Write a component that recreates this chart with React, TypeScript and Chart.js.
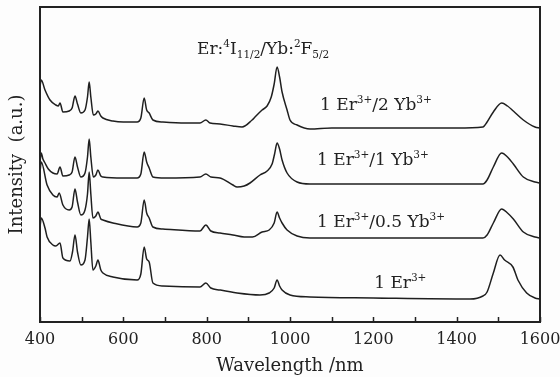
import React, { useEffect, useRef } from "react";
import { Chart, registerables } from "chart.js";

Chart.register(...registerables);

// Wavelength (nm) / intensity (a.u., offset traces)
const wl2Yb = [400,403,412,424,438,444,448,455,470,477,484,490,498,508,514,518,522,528,534,539,546,551,575,600,633,642,650,656,662,671,695,750,784,798,808,832,863,885,909,916,933,945,955,962,969,975,981,993,1000,1017,1048,1100,1200,1300,1400,1463,1473,1488,1508,1522,1536,1560,1588,1600];
const int2Yb = [236,242,232,222,217,216,219,210,211,214,226,218,209,212,225,240,225,207,208,211,206,204,201,200,200,204,224,212,209,202,200,199,199,202,199,198,196,195,202,205,212,216,225,238,255,245,230,212,202,197,193,194,194,194,194,195,200,210,219,216,211,202,195,194];

const wl1Yb = [400,403,407,412,420,431,441,448,455,470,477,484,490,498,508,514,518,522,528,534,539,546,551,600,633,642,650,656,662,671,700,784,798,810,832,863,873,890,904,928,945,957,963,969,975,981,993,1017,1048,1100,1200,1300,1400,1463,1473,1488,1508,1522,1536,1560,1588,1600];
const int1Yb = [160,169,163,159,153,149,148,155,146,147,150,165,155,145,149,165,183,165,145,147,152,146,145,144,144,148,170,160,154,145,144,145,148,145,144,137,135,136,139,147,151,158,168,179,173,162,149,140,138,138,138,138,138,138,142,155,169,165,158,145,140,139];

const wl05Yb = [400,403,417,431,441,446,455,470,477,484,490,498,508,514,518,522,527,534,539,546,551,575,633,642,650,656,662,671,695,784,798,810,832,863,890,910,933,950,962,969,975,981,993,1017,1048,1100,1200,1300,1400,1463,1473,1488,1508,1522,1536,1560,1588,1600];
const int05Yb = [150,160,137,127,125,129,117,112,115,133,120,107,112,128,150,128,104,106,110,103,102,99,95,99,122,109,104,95,93,91,97,91,89,87,85,85,90,92,99,110,104,99,92,86,84,84,84,84,84,84,87,99,113,109,103,90,85,84];

const wlEr = [400,403,412,417,431,438,448,455,472,478,484,490,498,508,514,518,522,527,534,539,546,551,575,633,642,650,656,662,671,695,784,798,810,832,873,928,950,962,969,975,981,1000,1048,1200,1432,1463,1473,1488,1504,1515,1535,1547,1568,1588,1600];
const intEr = [95,104,94,85,77,76,79,64,61,70,87,70,57,62,85,103,80,52,56,62,52,49,45,42,48,75,63,60,39,36,35,39,34,32,29,27,29,34,42,36,32,27,25,24,23,26,30,49,67,62,55,42,29,24,23];

const xTicksMin = 400;
const xTicksMax = 1600;

type Seg = { t: string; m?: "sup" | "sub" };
const labels: { x: number; y: number; segs: Seg[] }[] = [
  { x: 777, y: 268, segs: [{ t: "Er:" }, { t: "4", m: "sup" }, { t: "I" }, { t: "11/2", m: "sub" }, { t: "/Yb:" }, { t: "2", m: "sup" }, { t: "F" }, { t: "5/2", m: "sub" }] },
  { x: 1072, y: 212, segs: [{ t: "1 Er" }, { t: "3+", m: "sup" }, { t: "/2 Yb" }, { t: "3+", m: "sup" }] },
  { x: 1065, y: 157, segs: [{ t: "1 Er" }, { t: "3+", m: "sup" }, { t: "/1 Yb" }, { t: "3+", m: "sup" }] },
  { x: 1065, y: 95, segs: [{ t: "1 Er" }, { t: "3+", m: "sup" }, { t: "/0.5 Yb" }, { t: "3+", m: "sup" }] },
  { x: 1202, y: 34, segs: [{ t: "1 Er" }, { t: "3+", m: "sup" }] },
];

const FONT = "'DejaVu Serif', serif";
const INK = "#222";

const toPts = (xs: number[], ys: number[]) => xs.map((x, i) => ({ x, y: ys[i] }));

const framePlugin = {
  id: "frameAndText",
  beforeDraw(chart: any) {
    const c = chart.ctx;
    c.save();
    c.fillStyle = "#fdfdfd";
    c.fillRect(0, 0, chart.width, chart.height);
    c.restore();
  },
  afterDraw(chart: any) {
    const c = chart.ctx;
    const a = chart.chartArea;
    const xs = chart.scales.x;
    const ys = chart.scales.y;
    c.save();
    c.strokeStyle = INK;
    c.lineWidth = 2;
    c.strokeRect(a.left, a.top, a.right - a.left, a.bottom - a.top);
    c.lineWidth = 1.5;
    for (let v = xTicksMin; v <= xTicksMax; v += 100) {
      const px = Math.round(xs.getPixelForValue(v)) + 0.5;
      c.beginPath();
      c.moveTo(px, a.bottom);
      c.lineTo(px, a.bottom - 5);
      c.stroke();
    }
    c.fillStyle = INK;
    c.textBaseline = "alphabetic";
    c.textAlign = "left";
    const base = 17;
    const small = 10.5;
    for (const lb of labels) {
      let px = xs.getPixelForValue(lb.x);
      const py = ys.getPixelForValue(lb.y);
      for (const s of lb.segs) {
        const size = s.m ? small : base;
        c.font = `${size}px ${FONT}`;
        const dy = s.m === "sup" ? -base * 0.42 : s.m === "sub" ? base * 0.25 : 0;
        c.fillText(s.t, px, py + dy);
        px += c.measureText(s.t).width;
      }
    }
    c.restore();
  },
};

export default function App() {
  const ref = useRef<HTMLCanvasElement | null>(null);
  useEffect(() => {
    document.body.style.margin = "0";
    const line = {
      borderColor: "#1f1f1f",
      borderWidth: 1.5,
      pointRadius: 0,
      fill: false,
      cubicInterpolationMode: "monotone" as const,
    };
    const chart = new Chart(ref.current as HTMLCanvasElement, {
      type: "line",
      data: {
        datasets: [
          { label: "1 Er/2 Yb", data: toPts(wl2Yb, int2Yb), ...line },
          { label: "1 Er/1 Yb", data: toPts(wl1Yb, int1Yb), ...line },
          { label: "1 Er/0.5 Yb", data: toPts(wl05Yb, int05Yb), ...line },
          { label: "1 Er", data: toPts(wlEr, intEr), ...line },
        ],
      },
      options: {
        responsive: false,
        animation: false,
        layout: { padding: { top: 7, right: 20, left: 0, bottom: 0 } },
        plugins: { legend: { display: false }, tooltip: { enabled: false } },
        scales: {
          x: {
            type: "linear",
            min: xTicksMin,
            max: xTicksMax,
            grid: { display: false, drawTicks: false },
            border: { display: false },
            ticks: {
              stepSize: 100,
              autoSkip: false,
              maxRotation: 0,
              padding: 8,
              color: INK,
              font: { family: FONT, size: 16 },
              callback: (v: any) => (Number(v) % 200 === 0 ? String(v) : ""),
            },
            title: {
              display: true,
              text: "Wavelength /nm",
              color: INK,
              font: { family: FONT, size: 18 },
              padding: { top: 2, bottom: 0 },
            },
            afterFit: (s: any) => { s.height = 55; s.paddingLeft = 0; s.paddingRight = 0; },
          },
          y: {
            min: 0,
            max: 315,
            grid: { display: false, drawTicks: false },
            border: { display: false },
            ticks: { display: false },
            title: {
              display: true,
              text: "Intensity  (a.u.)",
              color: INK,
              font: { family: FONT, size: 18 },
              padding: { top: 7, bottom: 0 },
            },
            afterFit: (s: any) => { s.width = 40; s.paddingTop = 0; s.paddingBottom = 0; },
          },
        },
      },
      plugins: [framePlugin],
    });
    return () => chart.destroy();
  }, []);
  return (
    <div style={{ width: 560, height: 377 }}>
      <canvas ref={ref} width={560} height={377} />
    </div>
  );
}
